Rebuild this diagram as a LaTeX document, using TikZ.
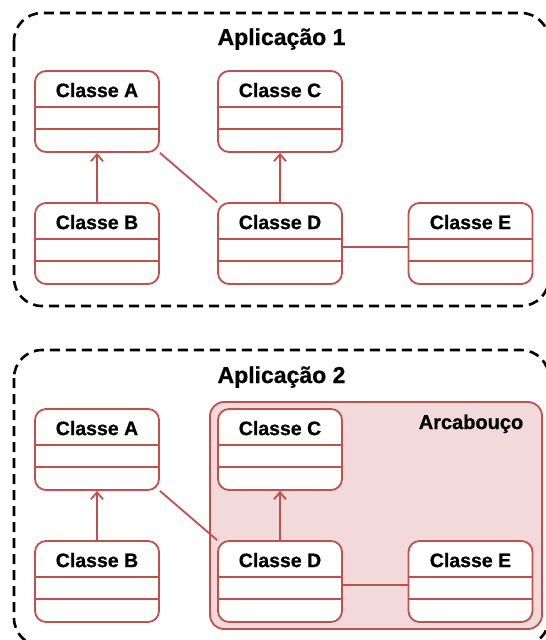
\documentclass[tikz,border=0pt]{standalone}
\usepackage{fontspec}
\setmainfont{Liberation Sans}
\newfontfamily\heavyfont{Liberation Sans}[UprightFont=*-Bold, FakeBold=0.8]
\usetikzlibrary{arrows.meta,calc}
\definecolor{umlred}{RGB}{192,80,77}
\definecolor{fwfill}{RGB}{242,218,218}
\tikzset{
  classbox/.style={draw=umlred, line width=1.8pt, fill=white, rounded corners=11pt,
    minimum width=124pt, minimum height=81pt, inner sep=0pt},
  classname/.style={font=\fontsize{19.5}{22}\heavyfont, inner sep=0pt, anchor=base},
  divider/.style={color=umlred, line width=1.8pt},
  assoc/.style={color=umlred, line width=1.8pt},
  inherit/.style={assoc, -{Straight Barb[length=7pt,width=12pt,line width=1.8pt]}},
  appframe/.style={draw=black, line width=2.6pt, dash pattern=on 10pt off 6pt, rounded corners=28pt},
  apptitle/.style={font=\fontsize{23}{26}\heavyfont, inner sep=0pt, anchor=base},
  framework/.style={draw=umlred, line width=1.8pt, fill=fwfill, rounded corners=14pt},
  fwtitle/.style={font=\fontsize{20}{23}\heavyfont, inner sep=0pt, anchor=base},
}
% UML class: name, x, y, label
\newcommand\umlclass[4]{%
  \node[classbox] (#1) at (#2,#3) {};
  \node[classname] (#1-t) at ($(#1.north)+(0,27)$) {#4};
  \draw[divider] ($(#1.north west)+(0,37)$) -- ($(#1.north east)+(0,37)$);
  \draw[divider] ($(#1.north west)+(0,59)$) -- ($(#1.north east)+(0,59)$);
}
\begin{document}
\begin{tikzpicture}[x=1pt, y=-1pt]
  \useasboundingbox (0,0) rectangle (546,640);

  % application frames
  \draw[appframe] (14,13) rectangle (549,306);
  \draw[appframe] (14,350) rectangle (549,646);
  \node[apptitle] (t1) at (281.5,45) {Aplicação 1};
  \node[apptitle] (t2) at (281.5,383) {Aplicação 2};

  % framework region
  \draw[framework] (210,402) rectangle (542,629);
  \node[fwtitle] (fw) at (471,429) {Arcabouço};

  % application 1
  \node[classbox, draw=none, fill=none] (A1) at (97,111.5) {};
  \node[classbox, draw=none, fill=none] (D1) at (280,243.5) {};
  \draw[assoc] (A1.south east) -- (D1.north west);
  \umlclass{A1}{97}{111.5}{Classe A}
  \umlclass{B1}{97}{243.5}{Classe B}
  \umlclass{C1}{280}{111.5}{Classe C}
  \umlclass{D1}{280}{243.5}{Classe D}
  \umlclass{E1}{470.5}{243.5}{Classe E}
  \draw[inherit] (B1.north) -- (A1.south);
  \draw[inherit] (D1.north) -- (C1.south);
  \draw[assoc] ([yshift=-3.5pt]D1.east) -- ([yshift=-3.5pt]E1.west);

  % application 2
  \node[classbox, draw=none, fill=none] (A2) at (97,449.5) {};
  \node[classbox, draw=none, fill=none] (D2) at (280,581.5) {};
  \draw[assoc] (A2.south east) -- (D2.north west);
  \umlclass{A2}{97}{449.5}{Classe A}
  \umlclass{B2}{97}{581.5}{Classe B}
  \umlclass{C2}{280}{449.5}{Classe C}
  \umlclass{D2}{280}{581.5}{Classe D}
  \umlclass{E2}{470.5}{581.5}{Classe E}
  \draw[inherit] (B2.north) -- (A2.south);
  \draw[inherit] (D2.north) -- (C2.south);
  \draw[assoc] ([yshift=-3.5pt]D2.east) -- ([yshift=-3.5pt]E2.west);
\end{tikzpicture}
\end{document}
